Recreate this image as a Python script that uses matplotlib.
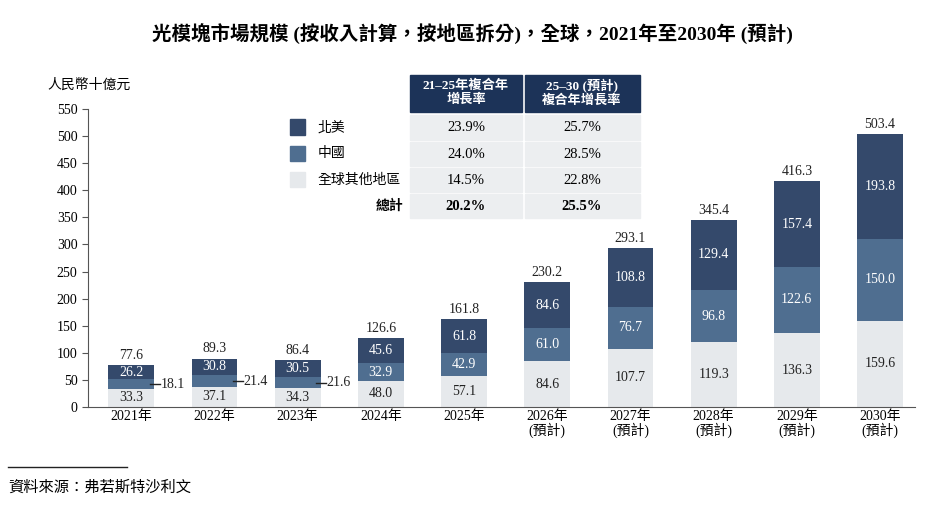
import matplotlib.pyplot as plt
from matplotlib.patches import Rectangle
from matplotlib.lines import Line2D

plt.rcParams['font.family'] = ['Liberation Serif', 'Noto Sans CJK TC']

years = ['2021年', '2022年', '2023年', '2024年', '2025年', '2026年\n(預計)', '2027年\n(預計)',
         '2028年\n(預計)', '2029年\n(預計)', '2030年\n(預計)']
rest = [33.3, 37.1, 34.3, 48.0, 57.1, 84.6, 107.7, 119.3, 136.3, 159.6]
china = [18.1, 21.4, 21.6, 32.9, 42.9, 61.0, 76.7, 96.8, 122.6, 150.0]
na = [26.2, 30.8, 30.5, 45.6, 61.8, 84.6, 108.8, 129.4, 157.4, 193.8]
total = [77.6, 89.3, 86.4, 126.6, 161.8, 230.2, 293.1, 345.4, 416.3, 503.4]
series_names = ['北美', '中國', '全球其他地區']
cagr_a = ['23.9%', '24.0%', '14.5%', '20.2%']
cagr_b = ['25.7%', '28.5%', '22.8%', '25.5%']

c_na, c_cn, c_rest = '#34496b', '#4f6e90', '#e6e9ec'
W, H = 944, 516
fig = plt.figure(figsize=(W / 100, H / 100), dpi=100)
ax = fig.add_axes([88 / W, 1 - 407 / H, (915 - 88) / W, (407 - 109) / H])
x = list(range(len(years)))
bw = 0.55
ax.bar(x, rest, bw, color=c_rest)
ax.bar(x, china, bw, bottom=rest, color=c_cn)
b2 = [r + c for r, c in zip(rest, china)]
ax.bar(x, na, bw, bottom=b2, color=c_na)
ax.set_xlim(-0.52, 9.42)
ax.set_ylim(0, 550)
ax.set_yticks(range(0, 551, 50))
ax.set_xticks(x)
ax.set_xticklabels(years, fontsize=10, linespacing=1.0)
ax.tick_params(axis='y', labelsize=10, length=4, color='#555555')
ax.tick_params(axis='x', length=0, pad=2)
for s in ['top', 'right']:
    ax.spines[s].set_visible(False)
for s in ['left', 'bottom']:
    ax.spines[s].set_color('#555555')

for i in x:
    ax.text(i, rest[i] / 2, f'{rest[i]:.1f}', ha='center', va='center', fontsize=10, color='#222222')
    ax.text(i, b2[i] + na[i] / 2, f'{na[i]:.1f}', ha='center', va='center', fontsize=10, color='white')
    ax.text(i, total[i] + 6, f'{total[i]:.1f}', ha='center', va='bottom', fontsize=10, color='#222222')
    if i < 3:
        ym = rest[i] + china[i] / 2
        ax.plot([i + 0.22, i + 0.34], [ym, ym], color='#222222', lw=1)
        ax.text(i + 0.35, ym, f'{china[i]:.1f}', ha='left', va='center', fontsize=10, color='#222222')
    else:
        ax.text(i, rest[i] + china[i] / 2, f'{china[i]:.1f}', ha='center', va='center', fontsize=10, color='white')

fig.text(47 / W, 1 - 85 / H, '人民幣十億元', fontsize=10, va='center')


def px(xp, yp):
    return xp / W, 1 - yp / H


def box(x0, y0, x1, y1, color):
    fig.patches.append(Rectangle(px(x0, y1), (x1 - x0) / W, (y1 - y0) / H,
                                 transform=fig.transFigure, color=color, zorder=0))


box(410, 75, 522, 112, '#1c3358')
box(525, 75, 640, 112, '#1c3358')
fig.text(*px(466, 93), '21–25年複合年\n增長率', color='white', fontsize=9.5, fontweight='bold',
         ha='center', va='center', linespacing=1.2)
fig.text(*px(582, 93), '25–30 (預計)\n複合年增長率', color='white', fontsize=9.5, fontweight='bold',
         ha='center', va='center', linespacing=1.2)
rows_y = [(115, 140), (142, 166), (168, 192), (194, 218)]
for k, (y0, y1) in enumerate(rows_y):
    box(410, y0, 522, y1, '#eceef0')
    box(525, y0, 640, y1, '#eceef0')
    fw = 'bold' if k == 3 else 'normal'
    ym = (y0 + y1) / 2
    fig.text(*px(466, ym), cagr_a[k], ha='center', va='center', fontsize=10.5, fontweight=fw)
    fig.text(*px(582, ym), cagr_b[k], ha='center', va='center', fontsize=10.5, fontweight=fw)
for k, (nm, col) in enumerate(zip(series_names, [c_na, c_cn, c_rest])):
    ym = (rows_y[k][0] + rows_y[k][1]) / 2
    box(290, ym - 8, 305, ym + 7, col)
    fig.text(*px(318, ym), nm, ha='left', va='center', fontsize=10)
fig.text(*px(403, 206), '總計', ha='right', va='center', fontsize=10, fontweight='bold')

fig.text(0.5, 1 - 34 / H, '光模塊市場規模 (按收入計算，按地區拆分)，全球，2021年至2030年 (預計)',
         ha='center', va='center', fontsize=14, fontweight='bold')
fig.lines.append(Line2D([8 / W, 127 / W], [1 - 467 / H] * 2, transform=fig.transFigure, color='#222222', lw=1))
fig.text(*px(8, 488), '資料來源：弗若斯特沙利文', ha='left', va='center', fontsize=11, style='italic')

fig.savefig('out.png', dpi=100)
